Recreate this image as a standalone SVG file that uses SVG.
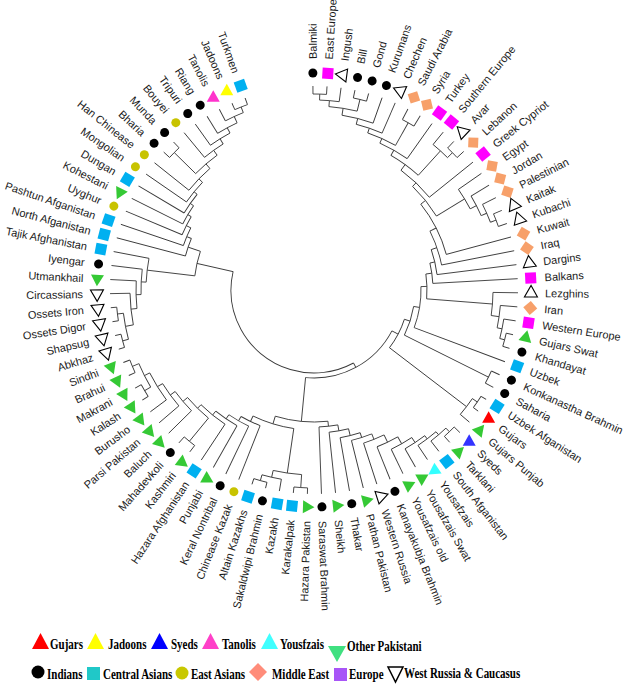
<svg xmlns="http://www.w3.org/2000/svg" width="629" height="685" viewBox="0 0 629 685">
<style>
.t line, .t circle { fill: none; stroke: #3a3a3a; stroke-width: 0.9; }
.nodes text { font-family: "Liberation Sans", Arial, sans-serif; font-size: 11px; fill: #1a1a1a; dominant-baseline: central; }
.nodes text.l { text-anchor: end; }
#legend text { font-family: "Liberation Serif", "Times New Roman", serif; font-weight: bold; font-size: 11px; fill: #000; }
</style>
<defs>
<circle id="ci" r="4.5" fill="#000"/>
<circle id="cy" r="4.5" fill="#c8c300"/>
<rect id="sm" x="-5.5" y="-5.5" width="11" height="11" fill="#ff00ff"/>
<rect id="sc" x="-5.5" y="-5.5" width="11" height="11" fill="#00b0f0"/>
<polygon id="dm" points="0,-7 7,0 0,7 -7,0" fill="#f7a06a"/>
<polygon id="tg" points="0,-7.5 6.5,4 -6.5,4" fill="#35c935"/>
<polygon id="to" points="0,-7.5 6.5,4 -6.5,4" fill="#fff" stroke="#000" stroke-width="1.1"/>
<polygon id="tr" points="0,-7.5 6.5,4 -6.5,4" fill="#ff0000"/>
<polygon id="ty" points="0,-7.5 6.5,4 -6.5,4" fill="#ffff00"/>
<polygon id="tb" points="0,-7.5 6.5,4 -6.5,4" fill="#3333ff"/>
<polygon id="tp" points="0,-7.5 6.5,4 -6.5,4" fill="#ff33cc"/>
<polygon id="tc" points="0,-7.5 6.5,4 -6.5,4" fill="#33ffff"/>
</defs>
<rect width="629" height="685" fill="#fff"/>
<g transform="translate(314,290)">
<g id="connectors" class="t">
<circle r="196" transform="rotate(-90.3)" stroke-dasharray="13.55 2000"/>
<circle r="190" transform="rotate(-88.32)" stroke-dasharray="19.70 2000"/>
<circle r="196" transform="rotate(-78.42)" stroke-dasharray="13.55 2000"/>
<circle r="184" transform="rotate(-85.35)" stroke-dasharray="28.61 2000"/>
<circle r="177" transform="rotate(-80.9)" stroke-dasharray="32.13 2000"/>
<circle r="171" transform="rotate(-75.7)" stroke-dasharray="27.34 2000"/>
<circle r="192" transform="rotate(-62.58)" stroke-dasharray="13.27 2000"/>
<circle r="166" transform="rotate(-71.12)" stroke-dasharray="30.48 2000"/>
<circle r="161" transform="rotate(-65.86)" stroke-dasharray="31.47 2000"/>
<circle r="195" transform="rotate(-46.74)" stroke-dasharray="13.48 2000"/>
<circle r="188" transform="rotate(-50.7)" stroke-dasharray="19.49 2000"/>
<circle r="155" transform="rotate(-60.26)" stroke-dasharray="33.90 2000"/>
<circle r="148" transform="rotate(-54)" stroke-dasharray="39.21 2000"/>
<circle r="195" transform="rotate(-22.98)" stroke-dasharray="13.48 2000"/>
<circle r="189" transform="rotate(-26.94)" stroke-dasharray="19.59 2000"/>
<circle r="183" transform="rotate(-30.9)" stroke-dasharray="22.13 2000"/>
<circle r="176" transform="rotate(-34.86)" stroke-dasharray="22.79 2000"/>
<circle r="143" transform="rotate(-46.41)" stroke-dasharray="38.09 2000"/>
<circle r="137" transform="rotate(-38.78)" stroke-dasharray="56.72 2000"/>
<circle r="130" transform="rotate(-26.92)" stroke-dasharray="35.89 2000"/>
<circle r="124" transform="rotate(-19.01)" stroke-dasharray="25.69 2000"/>
<circle r="119" transform="rotate(-13.08)" stroke-dasharray="20.56 2000"/>
<circle r="197" transform="rotate(12.66)" stroke-dasharray="13.62 2000"/>
<circle r="192" transform="rotate(8.7)" stroke-dasharray="19.90 2000"/>
<circle r="187" transform="rotate(4.74)" stroke-dasharray="22.62 2000"/>
<circle r="179" transform="rotate(0.78)" stroke-dasharray="23.18 2000"/>
<circle r="113" transform="rotate(-8.13)" stroke-dasharray="24.89 2000"/>
<circle r="107" transform="rotate(-1.82)" stroke-dasharray="41.83 2000"/>
<circle r="195" transform="rotate(24.54)" stroke-dasharray="13.48 2000"/>
<circle r="101" transform="rotate(9.38)" stroke-dasharray="30.21 2000"/>
<circle r="198" transform="rotate(32.46)" stroke-dasharray="13.68 2000"/>
<circle r="192" transform="rotate(34.44)" stroke-dasharray="19.90 2000"/>
<circle r="95" transform="rotate(17.95)" stroke-dasharray="32.27 2000"/>
<circle r="196" transform="rotate(44.34)" stroke-dasharray="13.55 2000"/>
<circle r="191" transform="rotate(46.32)" stroke-dasharray="19.80 2000"/>
<circle r="187" transform="rotate(49.29)" stroke-dasharray="22.62 2000"/>
<circle r="183" transform="rotate(52.76)" stroke-dasharray="23.70 2000"/>
<circle r="177" transform="rotate(56.47)" stroke-dasharray="23.69 2000"/>
<circle r="169" transform="rotate(60.31)" stroke-dasharray="22.98 2000"/>
<circle r="161" transform="rotate(64.2)" stroke-dasharray="22.09 2000"/>
<circle r="155" transform="rotate(68.13)" stroke-dasharray="21.34 2000"/>
<circle r="150" transform="rotate(72.08)" stroke-dasharray="20.68 2000"/>
<circle r="143" transform="rotate(76.03)" stroke-dasharray="19.74 2000"/>
<circle r="137" transform="rotate(79.98)" stroke-dasharray="18.94 2000"/>
<circle r="198" transform="rotate(103.74)" stroke-dasharray="13.68 2000"/>
<circle r="192" transform="rotate(99.78)" stroke-dasharray="19.90 2000"/>
<circle r="198" transform="rotate(91.86)" stroke-dasharray="13.68 2000"/>
<circle r="185" transform="rotate(93.84)" stroke-dasharray="28.77 2000"/>
<circle r="197" transform="rotate(155.22)" stroke-dasharray="13.62 2000"/>
<circle r="197" transform="rotate(147.3)" stroke-dasharray="13.62 2000"/>
<circle r="190" transform="rotate(149.28)" stroke-dasharray="26.26 2000"/>
<circle r="184" transform="rotate(143.34)" stroke-dasharray="31.79 2000"/>
<circle r="178" transform="rotate(139.38)" stroke-dasharray="27.68 2000"/>
<circle r="172" transform="rotate(135.42)" stroke-dasharray="25.28 2000"/>
<circle r="196" transform="rotate(127.5)" stroke-dasharray="13.55 2000"/>
<circle r="166" transform="rotate(129.48)" stroke-dasharray="29.41 2000"/>
<circle r="161" transform="rotate(123.54)" stroke-dasharray="30.97 2000"/>
<circle r="156" transform="rotate(119.58)" stroke-dasharray="25.78 2000"/>
<circle r="151" transform="rotate(115.62)" stroke-dasharray="22.90 2000"/>
<circle r="146" transform="rotate(111.66)" stroke-dasharray="21.18 2000"/>
<circle r="140" transform="rotate(98.3)" stroke-dasharray="42.79 2000"/>
<circle r="132" transform="rotate(83.94)" stroke-dasharray="53.24 2000"/>
<circle r="88" transform="rotate(27.68)" stroke-dasharray="104.16 2000"/>
<circle r="198" transform="rotate(171.06)" stroke-dasharray="13.68 2000"/>
<circle r="198" transform="rotate(163.14)" stroke-dasharray="13.68 2000"/>
<circle r="192" transform="rotate(165.12)" stroke-dasharray="26.54 2000"/>
<circle r="184" transform="rotate(169.08)" stroke-dasharray="31.79 2000"/>
<circle r="178" transform="rotate(174.03)" stroke-dasharray="27.68 2000"/>
<circle r="173" transform="rotate(178.49)" stroke-dasharray="25.39 2000"/>
<circle r="168" transform="rotate(182.69)" stroke-dasharray="23.96 2000"/>
<circle r="197" transform="rotate(246.3)" stroke-dasharray="13.62 2000"/>
<circle r="191" transform="rotate(242.34)" stroke-dasharray="19.80 2000"/>
<circle r="184" transform="rotate(238.38)" stroke-dasharray="22.25 2000"/>
<circle r="178" transform="rotate(234.42)" stroke-dasharray="23.08 2000"/>
<circle r="172" transform="rotate(230.46)" stroke-dasharray="23.03 2000"/>
<circle r="196" transform="rotate(222.54)" stroke-dasharray="13.55 2000"/>
<circle r="166" transform="rotate(224.52)" stroke-dasharray="28.33 2000"/>
<circle r="160" transform="rotate(218.58)" stroke-dasharray="30.24 2000"/>
<circle r="155" transform="rotate(214.62)" stroke-dasharray="25.38 2000"/>
<circle r="151" transform="rotate(210.66)" stroke-dasharray="22.80 2000"/>
<circle r="147" transform="rotate(206.7)" stroke-dasharray="21.24 2000"/>
<circle r="143" transform="rotate(202.74)" stroke-dasharray="20.22 2000"/>
<circle r="138" transform="rotate(198.78)" stroke-dasharray="19.29 2000"/>
<circle r="133" transform="rotate(194.82)" stroke-dasharray="18.48 2000"/>
<circle r="120" transform="rotate(186.78)" stroke-dasharray="25.17 2000"/>
<circle r="83" transform="rotate(61.59)" stroke-dasharray="190.06 2000"/>

<line x1="196" x2="204" transform="rotate(-90.3)"/>
<line x1="196" x2="204" transform="rotate(-86.34)"/>
<line x1="190" x2="196" transform="rotate(-88.32)"/>
<line x1="190" x2="204" transform="rotate(-82.38)"/>
<line x1="196" x2="204" transform="rotate(-78.42)"/>
<line x1="196" x2="204" transform="rotate(-74.46)"/>
<line x1="184" x2="190" transform="rotate(-85.35)"/>
<line x1="184" x2="196" transform="rotate(-76.44)"/>
<line x1="177" x2="184" transform="rotate(-80.9)"/>
<line x1="177" x2="204" transform="rotate(-70.5)"/>
<line x1="171" x2="177" transform="rotate(-75.7)"/>
<line x1="171" x2="204" transform="rotate(-66.54)"/>
<line x1="192" x2="204" transform="rotate(-62.58)"/>
<line x1="192" x2="204" transform="rotate(-58.62)"/>
<line x1="166" x2="171" transform="rotate(-71.12)"/>
<line x1="166" x2="192" transform="rotate(-60.6)"/>
<line x1="161" x2="166" transform="rotate(-65.86)"/>
<line x1="161" x2="204" transform="rotate(-54.66)"/>
<line x1="195" x2="204" transform="rotate(-46.74)"/>
<line x1="195" x2="204" transform="rotate(-42.78)"/>
<line x1="188" x2="204" transform="rotate(-50.7)"/>
<line x1="188" x2="195" transform="rotate(-44.76)"/>
<line x1="155" x2="161" transform="rotate(-60.26)"/>
<line x1="155" x2="188" transform="rotate(-47.73)"/>
<line x1="148" x2="155" transform="rotate(-54)"/>
<line x1="148" x2="204" transform="rotate(-38.82)"/>
<line x1="195" x2="204" transform="rotate(-22.98)"/>
<line x1="195" x2="204" transform="rotate(-19.02)"/>
<line x1="189" x2="204" transform="rotate(-26.94)"/>
<line x1="189" x2="195" transform="rotate(-21)"/>
<line x1="183" x2="204" transform="rotate(-30.9)"/>
<line x1="183" x2="189" transform="rotate(-23.97)"/>
<line x1="176" x2="204" transform="rotate(-34.86)"/>
<line x1="176" x2="183" transform="rotate(-27.44)"/>
<line x1="143" x2="148" transform="rotate(-46.41)"/>
<line x1="143" x2="176" transform="rotate(-31.15)"/>
<line x1="137" x2="143" transform="rotate(-38.78)"/>
<line x1="137" x2="204" transform="rotate(-15.06)"/>
<line x1="130" x2="137" transform="rotate(-26.92)"/>
<line x1="130" x2="204" transform="rotate(-11.1)"/>
<line x1="124" x2="130" transform="rotate(-19.01)"/>
<line x1="124" x2="204" transform="rotate(-7.14)"/>
<line x1="119" x2="124" transform="rotate(-13.08)"/>
<line x1="119" x2="204" transform="rotate(-3.18)"/>
<line x1="197" x2="204" transform="rotate(12.66)"/>
<line x1="197" x2="204" transform="rotate(16.62)"/>
<line x1="192" x2="204" transform="rotate(8.7)"/>
<line x1="192" x2="197" transform="rotate(14.64)"/>
<line x1="187" x2="204" transform="rotate(4.74)"/>
<line x1="187" x2="192" transform="rotate(11.67)"/>
<line x1="179" x2="204" transform="rotate(0.78)"/>
<line x1="179" x2="187" transform="rotate(8.2)"/>
<line x1="113" x2="119" transform="rotate(-8.13)"/>
<line x1="113" x2="179" transform="rotate(4.49)"/>
<line x1="107" x2="113" transform="rotate(-1.82)"/>
<line x1="107" x2="204" transform="rotate(20.58)"/>
<line x1="195" x2="204" transform="rotate(24.54)"/>
<line x1="195" x2="204" transform="rotate(28.5)"/>
<line x1="101" x2="107" transform="rotate(9.38)"/>
<line x1="101" x2="195" transform="rotate(26.52)"/>
<line x1="198" x2="204" transform="rotate(32.46)"/>
<line x1="198" x2="204" transform="rotate(36.42)"/>
<line x1="192" x2="198" transform="rotate(34.44)"/>
<line x1="192" x2="204" transform="rotate(40.38)"/>
<line x1="95" x2="101" transform="rotate(17.95)"/>
<line x1="95" x2="192" transform="rotate(37.41)"/>
<line x1="196" x2="204" transform="rotate(44.34)"/>
<line x1="196" x2="204" transform="rotate(48.3)"/>
<line x1="191" x2="196" transform="rotate(46.32)"/>
<line x1="191" x2="204" transform="rotate(52.26)"/>
<line x1="187" x2="191" transform="rotate(49.29)"/>
<line x1="187" x2="204" transform="rotate(56.22)"/>
<line x1="183" x2="187" transform="rotate(52.76)"/>
<line x1="183" x2="204" transform="rotate(60.18)"/>
<line x1="177" x2="183" transform="rotate(56.47)"/>
<line x1="177" x2="204" transform="rotate(64.14)"/>
<line x1="169" x2="177" transform="rotate(60.31)"/>
<line x1="169" x2="204" transform="rotate(68.1)"/>
<line x1="161" x2="169" transform="rotate(64.2)"/>
<line x1="161" x2="204" transform="rotate(72.06)"/>
<line x1="155" x2="161" transform="rotate(68.13)"/>
<line x1="155" x2="204" transform="rotate(76.02)"/>
<line x1="150" x2="155" transform="rotate(72.08)"/>
<line x1="150" x2="204" transform="rotate(79.98)"/>
<line x1="143" x2="150" transform="rotate(76.03)"/>
<line x1="143" x2="204" transform="rotate(83.94)"/>
<line x1="137" x2="143" transform="rotate(79.98)"/>
<line x1="137" x2="204" transform="rotate(87.9)"/>
<line x1="198" x2="204" transform="rotate(103.74)"/>
<line x1="198" x2="204" transform="rotate(107.7)"/>
<line x1="192" x2="204" transform="rotate(99.78)"/>
<line x1="192" x2="198" transform="rotate(105.72)"/>
<line x1="198" x2="204" transform="rotate(91.86)"/>
<line x1="198" x2="204" transform="rotate(95.82)"/>
<line x1="185" x2="198" transform="rotate(93.84)"/>
<line x1="185" x2="192" transform="rotate(102.75)"/>
<line x1="197" x2="204" transform="rotate(155.22)"/>
<line x1="197" x2="204" transform="rotate(159.18)"/>
<line x1="197" x2="204" transform="rotate(147.3)"/>
<line x1="197" x2="204" transform="rotate(151.26)"/>
<line x1="190" x2="197" transform="rotate(149.28)"/>
<line x1="190" x2="197" transform="rotate(157.2)"/>
<line x1="184" x2="204" transform="rotate(143.34)"/>
<line x1="184" x2="190" transform="rotate(153.24)"/>
<line x1="178" x2="204" transform="rotate(139.38)"/>
<line x1="178" x2="184" transform="rotate(148.29)"/>
<line x1="172" x2="204" transform="rotate(135.42)"/>
<line x1="172" x2="178" transform="rotate(143.84)"/>
<line x1="196" x2="204" transform="rotate(127.5)"/>
<line x1="196" x2="204" transform="rotate(131.46)"/>
<line x1="166" x2="196" transform="rotate(129.48)"/>
<line x1="166" x2="172" transform="rotate(139.63)"/>
<line x1="161" x2="204" transform="rotate(123.54)"/>
<line x1="161" x2="166" transform="rotate(134.56)"/>
<line x1="156" x2="204" transform="rotate(119.58)"/>
<line x1="156" x2="161" transform="rotate(129.05)"/>
<line x1="151" x2="204" transform="rotate(115.62)"/>
<line x1="151" x2="156" transform="rotate(124.31)"/>
<line x1="146" x2="204" transform="rotate(111.66)"/>
<line x1="146" x2="151" transform="rotate(119.97)"/>
<line x1="140" x2="185" transform="rotate(98.3)"/>
<line x1="140" x2="146" transform="rotate(115.81)"/>
<line x1="132" x2="137" transform="rotate(83.94)"/>
<line x1="132" x2="140" transform="rotate(107.05)"/>
<line x1="88" x2="95" transform="rotate(27.68)"/>
<line x1="88" x2="132" transform="rotate(95.5)"/>
<line x1="198" x2="204" transform="rotate(171.06)"/>
<line x1="198" x2="204" transform="rotate(175.02)"/>
<line x1="198" x2="204" transform="rotate(163.14)"/>
<line x1="198" x2="204" transform="rotate(167.1)"/>
<line x1="192" x2="198" transform="rotate(165.12)"/>
<line x1="192" x2="198" transform="rotate(173.04)"/>
<line x1="184" x2="192" transform="rotate(169.08)"/>
<line x1="184" x2="204" transform="rotate(178.98)"/>
<line x1="178" x2="184" transform="rotate(174.03)"/>
<line x1="178" x2="204" transform="rotate(182.94)"/>
<line x1="173" x2="178" transform="rotate(178.49)"/>
<line x1="173" x2="204" transform="rotate(186.9)"/>
<line x1="168" x2="173" transform="rotate(182.69)"/>
<line x1="168" x2="204" transform="rotate(190.86)"/>
<line x1="197" x2="204" transform="rotate(246.3)"/>
<line x1="197" x2="204" transform="rotate(250.26)"/>
<line x1="191" x2="204" transform="rotate(242.34)"/>
<line x1="191" x2="197" transform="rotate(248.28)"/>
<line x1="184" x2="204" transform="rotate(238.38)"/>
<line x1="184" x2="191" transform="rotate(245.31)"/>
<line x1="178" x2="204" transform="rotate(234.42)"/>
<line x1="178" x2="184" transform="rotate(241.85)"/>
<line x1="172" x2="204" transform="rotate(230.46)"/>
<line x1="172" x2="178" transform="rotate(238.13)"/>
<line x1="196" x2="204" transform="rotate(222.54)"/>
<line x1="196" x2="204" transform="rotate(226.5)"/>
<line x1="166" x2="196" transform="rotate(224.52)"/>
<line x1="166" x2="172" transform="rotate(234.3)"/>
<line x1="160" x2="204" transform="rotate(218.58)"/>
<line x1="160" x2="166" transform="rotate(229.41)"/>
<line x1="155" x2="204" transform="rotate(214.62)"/>
<line x1="155" x2="160" transform="rotate(224)"/>
<line x1="151" x2="204" transform="rotate(210.66)"/>
<line x1="151" x2="155" transform="rotate(219.31)"/>
<line x1="147" x2="204" transform="rotate(206.7)"/>
<line x1="147" x2="151" transform="rotate(214.98)"/>
<line x1="143" x2="204" transform="rotate(202.74)"/>
<line x1="143" x2="147" transform="rotate(210.84)"/>
<line x1="138" x2="204" transform="rotate(198.78)"/>
<line x1="138" x2="143" transform="rotate(206.79)"/>
<line x1="133" x2="204" transform="rotate(194.82)"/>
<line x1="133" x2="138" transform="rotate(202.78)"/>
<line x1="120" x2="168" transform="rotate(186.78)"/>
<line x1="120" x2="133" transform="rotate(198.8)"/>
<line x1="83" x2="88" transform="rotate(61.59)"/>
<line x1="83" x2="120" transform="rotate(192.79)"/>
</g>

<g class="nodes">
<g id="n-balmiki"><use href="#ci" transform="rotate(-90.3) translate(217)"/><text transform="rotate(-90.3)" x="231">Balmiki</text></g>
<g id="n-east-europe"><use href="#sm" transform="rotate(-86.34) translate(217)"/><text transform="rotate(-86.34)" x="231">East Europe</text></g>
<g id="n-ingush"><use href="#to" transform="rotate(-82.38) translate(217)"/><text transform="rotate(-82.38)" x="231">Ingush</text></g>
<g id="n-bill"><use href="#ci" transform="rotate(-78.42) translate(217)"/><text transform="rotate(-78.42)" x="231">Bill</text></g>
<g id="n-gond"><use href="#ci" transform="rotate(-74.46) translate(217)"/><text transform="rotate(-74.46)" x="231">Gond</text></g>
<g id="n-kurumans"><use href="#ci" transform="rotate(-70.5) translate(217)"/><text transform="rotate(-70.5)" x="231">Kurumans</text></g>
<g id="n-chechen"><use href="#to" transform="rotate(-66.54) translate(217)"/><text transform="rotate(-66.54)" x="231">Chechen</text></g>
<g id="n-saudi-arabia"><use href="#dm" transform="rotate(-62.58) translate(217)"/><text transform="rotate(-62.58)" x="231">Saudi Arabia</text></g>
<g id="n-syria"><use href="#dm" transform="rotate(-58.62) translate(217)"/><text transform="rotate(-58.62)" x="231">Syria</text></g>
<g id="n-turkey"><use href="#sm" transform="rotate(-54.66) translate(217)"/><text transform="rotate(-54.66)" x="231">Turkey</text></g>
<g id="n-southern-europe"><use href="#sm" transform="rotate(-50.7) translate(217)"/><text transform="rotate(-50.7)" x="231">Southern Europe</text></g>
<g id="n-avar"><use href="#to" transform="rotate(-46.74) translate(217)"/><text transform="rotate(-46.74)" x="231">Avar</text></g>
<g id="n-lebanon"><use href="#dm" transform="rotate(-42.78) translate(217)"/><text transform="rotate(-42.78)" x="231">Lebanon</text></g>
<g id="n-greek-cypriot"><use href="#sm" transform="rotate(-38.82) translate(217)"/><text transform="rotate(-38.82)" x="231">Greek Cypriot</text></g>
<g id="n-egypt"><use href="#dm" transform="rotate(-34.86) translate(217)"/><text transform="rotate(-34.86)" x="231">Egypt</text></g>
<g id="n-jordan"><use href="#dm" transform="rotate(-30.9) translate(217)"/><text transform="rotate(-30.9)" x="231">Jordan</text></g>
<g id="n-palestinian"><use href="#dm" transform="rotate(-26.94) translate(217)"/><text transform="rotate(-26.94)" x="231">Palestinian</text></g>
<g id="n-kaitak"><use href="#to" transform="rotate(-22.98) translate(217)"/><text transform="rotate(-22.98)" x="231">Kaitak</text></g>
<g id="n-kubachi"><use href="#to" transform="rotate(-19.02) translate(217)"/><text transform="rotate(-19.02)" x="231">Kubachi</text></g>
<g id="n-kuwait"><use href="#dm" transform="rotate(-15.06) translate(217)"/><text transform="rotate(-15.06)" x="231">Kuwait</text></g>
<g id="n-iraq"><use href="#dm" transform="rotate(-11.1) translate(217)"/><text transform="rotate(-11.1)" x="231">Iraq</text></g>
<g id="n-dargins"><use href="#to" transform="rotate(-7.14) translate(217)"/><text transform="rotate(-7.14)" x="231">Dargins</text></g>
<g id="n-balkans"><use href="#sm" transform="rotate(-3.18) translate(217)"/><text transform="rotate(-3.18)" x="231">Balkans</text></g>
<g id="n-lezghins"><use href="#to" transform="rotate(0.78) translate(217)"/><text transform="rotate(0.78)" x="231">Lezghins</text></g>
<g id="n-iran"><use href="#dm" transform="rotate(4.74) translate(217)"/><text transform="rotate(4.74)" x="231">Iran</text></g>
<g id="n-western-europe"><use href="#sm" transform="rotate(8.7) translate(217)"/><text transform="rotate(8.7)" x="231">Western Europe</text></g>
<g id="n-gujars-swat"><use href="#tg" transform="rotate(12.66) translate(217)"/><text transform="rotate(12.66)" x="231">Gujars Swat</text></g>
<g id="n-khandayat"><use href="#ci" transform="rotate(16.62) translate(217)"/><text transform="rotate(16.62)" x="231">Khandayat</text></g>
<g id="n-uzbek"><use href="#sc" transform="rotate(20.58) translate(217)"/><text transform="rotate(20.58)" x="231">Uzbek</text></g>
<g id="n-konkanastha-brahmin"><use href="#ci" transform="rotate(24.54) translate(217)"/><text transform="rotate(24.54)" x="231">Konkanastha Brahmin</text></g>
<g id="n-saharia"><use href="#ci" transform="rotate(28.5) translate(217)"/><text transform="rotate(28.5)" x="231">Saharia</text></g>
<g id="n-uzbek-afganistan"><use href="#sc" transform="rotate(32.46) translate(217)"/><text transform="rotate(32.46)" x="231">Uzbek Afganistan</text></g>
<g id="n-gujars"><use href="#tr" transform="rotate(36.42) translate(217) rotate(-36.42)"/><text transform="rotate(36.42)" x="231">Gujars</text></g>
<g id="n-gujars-punjab"><use href="#tg" transform="rotate(40.38) translate(217)"/><text transform="rotate(40.38)" x="231">Gujars Punjab</text></g>
<g id="n-syeds"><use href="#tb" transform="rotate(44.34) translate(217) rotate(-44.34)"/><text transform="rotate(44.34)" x="231">Syeds</text></g>
<g id="n-tarklani"><use href="#tg" transform="rotate(48.3) translate(217)"/><text transform="rotate(48.3)" x="231">Tarklani</text></g>
<g id="n-south-afganistan"><use href="#sc" transform="rotate(52.26) translate(217)"/><text transform="rotate(52.26)" x="231">South Afganistan</text></g>
<g id="n-yousafzais"><use href="#tc" transform="rotate(56.22) translate(217) rotate(180)"/><text transform="rotate(56.22)" x="231">Yousafzais</text></g>
<g id="n-yousafzais-swat"><use href="#tg" transform="rotate(60.18) translate(217)"/><text transform="rotate(60.18)" x="231">Yousafzais Swat</text></g>
<g id="n-yousafzais-old"><use href="#tg" transform="rotate(64.14) translate(217)"/><text transform="rotate(64.14)" x="231">Yousafzais old</text></g>
<g id="n-kanayakubja-brahmin"><use href="#ci" transform="rotate(68.1) translate(217)"/><text transform="rotate(68.1)" x="231">Kanayakubja Brahmin</text></g>
<g id="n-western-russia"><use href="#to" transform="rotate(72.06) translate(217)"/><text transform="rotate(72.06)" x="231">Western Russia</text></g>
<g id="n-pathan-pakistan"><use href="#tg" transform="rotate(76.02) translate(217)"/><text transform="rotate(76.02)" x="231">Pathan Pakistan</text></g>
<g id="n-thakar"><use href="#ci" transform="rotate(79.98) translate(217)"/><text transform="rotate(79.98)" x="231">Thakar</text></g>
<g id="n-sheikh"><use href="#tg" transform="rotate(83.94) translate(217)"/><text transform="rotate(83.94)" x="231">Sheikh</text></g>
<g id="n-saraswat-brahmin"><use href="#ci" transform="rotate(87.9) translate(217)"/><text transform="rotate(87.9)" x="231">Saraswat Brahmin</text></g>
<g id="n-hazara-pakistan"><use href="#tg" transform="rotate(91.86) translate(217)"/><text class="l" transform="rotate(-88.14)" x="-231">Hazara Pakistan</text></g>
<g id="n-karakalpak"><use href="#sc" transform="rotate(95.82) translate(217)"/><text class="l" transform="rotate(-84.18)" x="-231">Karakalpak</text></g>
<g id="n-kazakh"><use href="#sc" transform="rotate(99.78) translate(217)"/><text class="l" transform="rotate(-80.22)" x="-231">Kazakh</text></g>
<g id="n-sakaldwipi-brahmin"><use href="#ci" transform="rotate(103.74) translate(217)"/><text class="l" transform="rotate(-76.26)" x="-231">Sakaldwipi Brahmin</text></g>
<g id="n-altain-kazakhs"><use href="#sc" transform="rotate(107.7) translate(217)"/><text class="l" transform="rotate(-72.3)" x="-231">Altain Kazakhs</text></g>
<g id="n-chinease-kazak"><use href="#cy" transform="rotate(111.66) translate(217)"/><text class="l" transform="rotate(-68.34)" x="-231">Chinease Kazak</text></g>
<g id="n-keral-nontribal"><use href="#ci" transform="rotate(115.62) translate(217)"/><text class="l" transform="rotate(-64.38)" x="-231">Keral Nontribal</text></g>
<g id="n-punjabi"><use href="#tg" transform="rotate(119.58) translate(217)"/><text class="l" transform="rotate(-60.42)" x="-231">Punjabi</text></g>
<g id="n-hazara-afghanistan"><use href="#sc" transform="rotate(123.54) translate(217)"/><text class="l" transform="rotate(-56.46)" x="-231">Hazara Afghanistan</text></g>
<g id="n-kashmiri"><use href="#tg" transform="rotate(127.5) translate(217)"/><text class="l" transform="rotate(-52.5)" x="-231">Kashmiri</text></g>
<g id="n-mahadevkoli"><use href="#ci" transform="rotate(131.46) translate(217)"/><text class="l" transform="rotate(-48.54)" x="-231">Mahadevkoli</text></g>
<g id="n-baluch"><use href="#tg" transform="rotate(135.42) translate(217)"/><text class="l" transform="rotate(-44.58)" x="-231">Baluch</text></g>
<g id="n-parsi-pakistan"><use href="#tg" transform="rotate(139.38) translate(217)"/><text class="l" transform="rotate(-40.62)" x="-231">Parsi Pakistan</text></g>
<g id="n-burusho"><use href="#tg" transform="rotate(143.34) translate(217)"/><text class="l" transform="rotate(-36.66)" x="-231">Burusho</text></g>
<g id="n-kalash"><use href="#tg" transform="rotate(147.3) translate(217)"/><text class="l" transform="rotate(-32.7)" x="-231">Kalash</text></g>
<g id="n-makrani"><use href="#tg" transform="rotate(151.26) translate(217)"/><text class="l" transform="rotate(-28.74)" x="-231">Makrani</text></g>
<g id="n-brahui"><use href="#tg" transform="rotate(155.22) translate(217)"/><text class="l" transform="rotate(-24.78)" x="-231">Brahui</text></g>
<g id="n-sindhi"><use href="#tg" transform="rotate(159.18) translate(217)"/><text class="l" transform="rotate(-20.82)" x="-231">Sindhi</text></g>
<g id="n-abkhaz"><use href="#to" transform="rotate(163.14) translate(217)"/><text class="l" transform="rotate(-16.86)" x="-231">Abkhaz</text></g>
<g id="n-shapsug"><use href="#to" transform="rotate(167.1) translate(217)"/><text class="l" transform="rotate(-12.9)" x="-231">Shapsug</text></g>
<g id="n-ossets-digor"><use href="#to" transform="rotate(171.06) translate(217)"/><text class="l" transform="rotate(-8.94)" x="-231">Ossets Digor</text></g>
<g id="n-ossets-iron"><use href="#to" transform="rotate(175.02) translate(217)"/><text class="l" transform="rotate(-4.98)" x="-231">Ossets Iron</text></g>
<g id="n-circassians"><use href="#to" transform="rotate(178.98) translate(217)"/><text class="l" transform="rotate(-1.02)" x="-231">Circassians</text></g>
<g id="n-utmankhail"><use href="#tg" transform="rotate(182.94) translate(217)"/><text class="l" transform="rotate(2.94)" x="-231">Utmankhail</text></g>
<g id="n-iyengar"><use href="#ci" transform="rotate(186.9) translate(217)"/><text class="l" transform="rotate(6.9)" x="-231">Iyengar</text></g>
<g id="n-tajik-afghanistan"><use href="#sc" transform="rotate(190.86) translate(217)"/><text class="l" transform="rotate(10.86)" x="-231">Tajik Afghanistan</text></g>
<g id="n-north-afganistan"><use href="#sc" transform="rotate(194.82) translate(217)"/><text class="l" transform="rotate(14.82)" x="-231">North Afganistan</text></g>
<g id="n-pashtun-afganistan"><use href="#sc" transform="rotate(198.78) translate(217)"/><text class="l" transform="rotate(18.78)" x="-231">Pashtun Afganistan</text></g>
<g id="n-uyghur"><use href="#cy" transform="rotate(202.74) translate(217)"/><text class="l" transform="rotate(22.74)" x="-231">Uyghur</text></g>
<g id="n-kohestani"><use href="#tg" transform="rotate(206.7) translate(217)"/><text class="l" transform="rotate(26.7)" x="-231">Kohestani</text></g>
<g id="n-dungan"><use href="#sc" transform="rotate(210.66) translate(217)"/><text class="l" transform="rotate(30.66)" x="-231">Dungan</text></g>
<g id="n-mongolian"><use href="#cy" transform="rotate(214.62) translate(217)"/><text class="l" transform="rotate(34.62)" x="-231">Mongolian</text></g>
<g id="n-han-chinease"><use href="#cy" transform="rotate(218.58) translate(217)"/><text class="l" transform="rotate(38.58)" x="-231">Han Chinease</text></g>
<g id="n-bharia"><use href="#ci" transform="rotate(222.54) translate(217)"/><text class="l" transform="rotate(42.54)" x="-231">Bharia</text></g>
<g id="n-munda"><use href="#ci" transform="rotate(226.5) translate(217)"/><text class="l" transform="rotate(46.5)" x="-231">Munda</text></g>
<g id="n-bouyei"><use href="#cy" transform="rotate(230.46) translate(217)"/><text class="l" transform="rotate(50.46)" x="-231">Bouyei</text></g>
<g id="n-tripuri"><use href="#ci" transform="rotate(234.42) translate(217)"/><text class="l" transform="rotate(54.42)" x="-231">Tripuri</text></g>
<g id="n-riang"><use href="#ci" transform="rotate(238.38) translate(217)"/><text class="l" transform="rotate(58.38)" x="-231">Riang</text></g>
<g id="n-tanolis"><use href="#tp" transform="rotate(242.34) translate(217) rotate(-242.34)"/><text class="l" transform="rotate(62.34)" x="-231">Tanolis</text></g>
<g id="n-jadoons"><use href="#ty" transform="rotate(246.3) translate(217) rotate(-246.3)"/><text class="l" transform="rotate(66.3)" x="-231">Jadoons</text></g>
<g id="n-turkmen"><use href="#sc" transform="rotate(250.26) translate(217)"/><text class="l" transform="rotate(70.26)" x="-231">Turkmen</text></g>
</g>
</g>

<g id="legend">
<polygon points="32,649 49,649 40.5,633" fill="#ff0000"/>
<text transform="translate(50,649) scale(1,1.35)">Gujars</text>
<polygon points="87,649 104,649 95.5,633" fill="#ffff00"/>
<text transform="translate(108,649) scale(1,1.35)">Jadoons</text>
<polygon points="151,649 168,649 159.5,633" fill="#0000ff"/>
<text transform="translate(171,649) scale(1,1.35)">Syeds</text>
<polygon points="202,649 219,649 210.5,633" fill="#ff40c8"/>
<text transform="translate(222,649) scale(1,1.35)">Tanolis</text>
<polygon points="261,649 278,649 269.5,633" fill="#40ffff"/>
<text transform="translate(280,649) scale(1,1.35)">Yousfzais</text>
<polygon points="328,646 346,646 337,662" fill="#40e080"/>
<text transform="translate(347,651) scale(1,1.35)">Other Pakistani</text>
<circle cx="38" cy="672" r="6.5" fill="#000"/>
<text transform="translate(47,679) scale(1,1.35)">Indians</text>
<rect x="87" y="667" width="13" height="13" fill="#20c8c8"/>
<text transform="translate(103,679) scale(1,1.35)">Central Asians</text>
<circle cx="182" cy="673" r="6.5" fill="#c8c800"/>
<text transform="translate(191,679) scale(1,1.35)">East Asians</text>
<polygon points="258,663 267,672 258,681 249,672" fill="#ff8c7a"/>
<text transform="translate(272,679) scale(1,1.35)">Middle East</text>
<rect x="334" y="668" width="13" height="13" fill="#a855f7"/>
<text transform="translate(349,679) scale(1,1.35)">Europe</text>
<polygon points="388,667 403,667 395.5,682" fill="#fff" stroke="#000" stroke-width="1.5"/>
<text transform="translate(404,678) scale(1,1.35)">West Russia &amp; Caucasus</text>
</g>
</svg>
